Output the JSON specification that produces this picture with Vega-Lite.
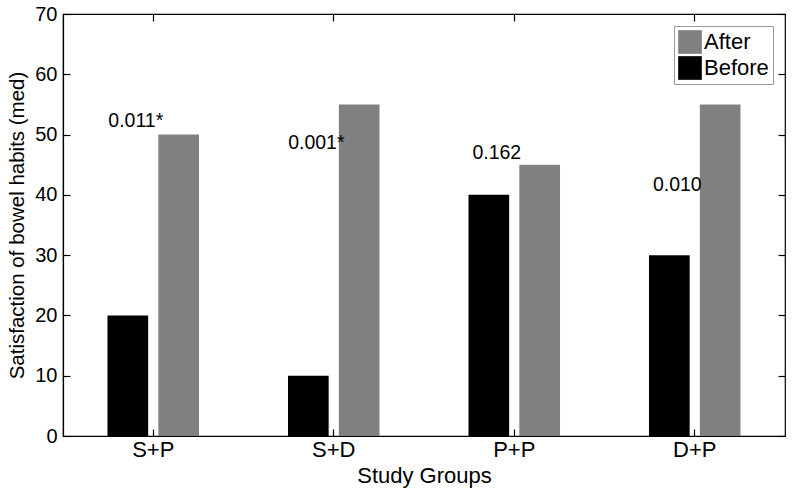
{
  "$schema": "https://vega.github.io/schema/vega-lite/v6.json",
  "width": 722,
  "height": 422,
  "autosize": {"type": "none"},
  "padding": {"left": 63, "top": 14, "right": 7, "bottom": 56},
  "background": "white",
  "config": {
    "font": "Liberation Sans",
    "view": {"stroke": "black", "strokeWidth": 1.2},
    "axis": {"grid": false, "domainColor": "black", "tickColor": "black", "labelColor": "black", "titleColor": "black", "labelFont": "Liberation Sans", "titleFont": "Liberation Sans", "labelFontSize": 20, "titleFontSize": 20, "titleFontWeight": "normal", "tickSize": -7, "domainWidth": 1.2, "tickWidth": 1.2}
  },
  "datasets": {
    "bars": [
      {"group": "S+P", "period": "Before", "value": 20},
      {"group": "S+P", "period": "After", "value": 50},
      {"group": "S+D", "period": "Before", "value": 10},
      {"group": "S+D", "period": "After", "value": 55},
      {"group": "P+P", "period": "Before", "value": 40},
      {"group": "P+P", "period": "After", "value": 45},
      {"group": "D+P", "period": "Before", "value": 30},
      {"group": "D+P", "period": "After", "value": 55}
    ],
    "notes": [
      {"group": "S+P", "period": "Before", "y": 52.3, "label": "0.011*"},
      {"group": "S+D", "period": "Before", "y": 48.6, "label": "0.001*"},
      {"group": "P+P", "period": "Before", "y": 46.9, "label": "0.162"},
      {"group": "D+P", "period": "Before", "y": 41.6, "label": "0.010"}
    ]
  },
  "layer": [
    {
      "data": {"name": "bars"},
      "mark": {"type": "bar"},
      "encoding": {
        "x": {"field": "group", "type": "nominal", "sort": ["S+P", "S+D", "P+P", "D+P"],
              "scale": {"paddingInner": 0, "paddingOuter": 0},
              "axis": {"orient": "bottom", "title": "Study Groups", "labelAngle": 0, "labelPadding": 10, "titlePadding": 5, "labelFontSize": 22, "titleFontSize": 22}},
        "xOffset": {"field": "period", "type": "nominal", "sort": ["Before", "After"],
                    "scale": {"paddingInner": 0.2, "paddingOuter": 0.875}},
        "y": {"field": "value", "type": "quantitative",
              "scale": {"domain": [0, 70], "nice": false},
              "axis": {"orient": "left", "title": "Satisfaction of bowel habits (med)", "values": [0, 10, 20, 30, 40, 50, 60, 70], "labelPadding": 13, "titlePadding": 7, "labelFontSize": 20, "titleFontSize": 20.5}},
        "color": {"field": "period", "type": "nominal",
                  "scale": {"domain": ["After", "Before"], "range": ["#808080", "#000000"]},
                  "legend": {"title": null, "orient": "top-right", "offset": 12, "symbolType": "square", "symbolSize": 560, "symbolStrokeWidth": 0, "labelFontSize": 22, "labelFont": "Liberation Sans", "labelColor": "black", "strokeColor": "#999999", "fillColor": "white", "padding": 4, "rowPadding": 2, "symbolOffset": 0, "labelOffset": 2}}
      }
    },
    {
      "data": {"name": "notes"},
      "mark": {"type": "text", "fontSize": 19.5, "font": "Liberation Sans", "color": "black", "baseline": "middle", "align": "center", "dx": 8},
      "encoding": {
        "x": {"field": "group", "type": "nominal", "sort": ["S+P", "S+D", "P+P", "D+P"], "axis": null},
        "xOffset": {"field": "period", "type": "nominal", "sort": ["Before", "After"]},
        "y": {"field": "y", "type": "quantitative", "axis": null},
        "text": {"field": "label", "type": "nominal"}
      }
    },
    {
      "data": {"name": "bars"},
      "mark": {"type": "bar", "opacity": 0},
      "encoding": {
        "x": {"field": "group", "type": "nominal", "sort": ["S+P", "S+D", "P+P", "D+P"],
              "axis": {"orient": "top", "labels": false, "title": null, "domain": false}},
        "xOffset": {"field": "period", "type": "nominal", "sort": ["Before", "After"]},
        "y": {"field": "value", "type": "quantitative",
              "axis": {"orient": "right", "labels": false, "title": null, "domain": false, "values": [0, 10, 20, 30, 40, 50, 60, 70]}}
      }
    }
  ],
  "resolve": {"axis": {"x": "independent", "y": "independent"}}
}
